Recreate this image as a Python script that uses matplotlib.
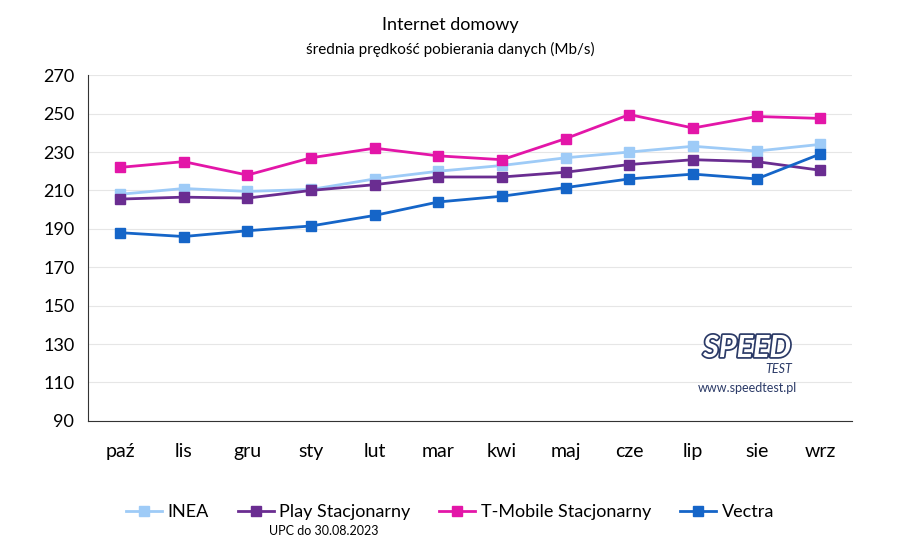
import matplotlib.pyplot as plt
import matplotlib.patheffects as pe

plt.rcParams['font.family'] = ['Lato', 'DejaVu Sans']

miesiace = ['paź', 'lis', 'gru', 'sty', 'lut', 'mar', 'kwi', 'maj', 'cze', 'lip', 'sie', 'wrz']
inea = [208, 211, 209.5, 210.5, 216, 220, 223, 227, 230, 233, 230.5, 234]
play = [205.5, 206.5, 206, 210, 213, 217, 217, 219.5, 223.5, 226, 225, 220.5]
tmobile = [222, 225, 218, 227, 232, 228, 226, 237, 249.5, 242.5, 248.5, 247.5]
vectra = [188, 186, 189, 191.5, 197, 204, 207, 211.5, 216, 218.5, 216, 229]

fig = plt.figure(figsize=(9, 5.41), dpi=100)
ax = fig.add_axes([0.098, 0.222, 0.849, 0.639])

x = range(len(miesiace))
ax.plot(x, inea, c='#9ecbf7', lw=2, marker='s', ms=7, label='INEA')
ax.plot(x, play, c='#6a2d91', lw=2, marker='s', ms=7, label='Play Stacjonarny')
ax.plot(x, tmobile, c='#e316a8', lw=2, marker='s', ms=7, label='T-Mobile Stacjonarny')
ax.plot(x, vectra, c='#1565c8', lw=2, marker='s', ms=7, label='Vectra')

ax.set_ylim(90, 270)
ax.set_yticks(range(90, 271, 20))
ax.set_xlim(-0.5, 11.5)
ax.set_xticks(list(x))
ax.set_xticklabels(miesiace, fontsize=14)
ax.tick_params(axis='y', labelsize=13, length=0, pad=10)
ax.tick_params(axis='x', length=0, pad=16)
ax.grid(axis='y', color='#e6e6e6', lw=0.8)
ax.set_axisbelow(True)
for s in ['top', 'right']:
    ax.spines[s].set_visible(False)
for s in ['left', 'bottom']:
    ax.spines[s].set_color('#333333')

fig.text(0.5, 0.945, 'Internet domowy', ha='center', fontsize=13)
fig.text(0.5, 0.9, 'średnia prędkość pobierania danych (Mb/s)', ha='center', fontsize=11)

fig.legend(loc='center', bbox_to_anchor=(0.5, 0.053), ncol=4, frameon=False,
           fontsize=13, handlelength=2.0, handletextpad=0.3, columnspacing=1.6)
fig.text(0.36, 0.012, 'UPC do 30.08.2023', ha='center', fontsize=9)

t = fig.text(0.83, 0.34, 'SPEED', ha='center', fontsize=22, style='italic',
             fontweight='bold', color='white')
t.set_path_effects([pe.withStroke(linewidth=2.5, foreground='#2b3a67')])
fig.text(0.865, 0.31, 'TEST', ha='center', fontsize=9, style='italic', color='#2b3a67')
fig.text(0.83, 0.275, 'www.speedtest.pl', ha='center', fontsize=9, color='#2b3a67')

fig.savefig('out.png')
